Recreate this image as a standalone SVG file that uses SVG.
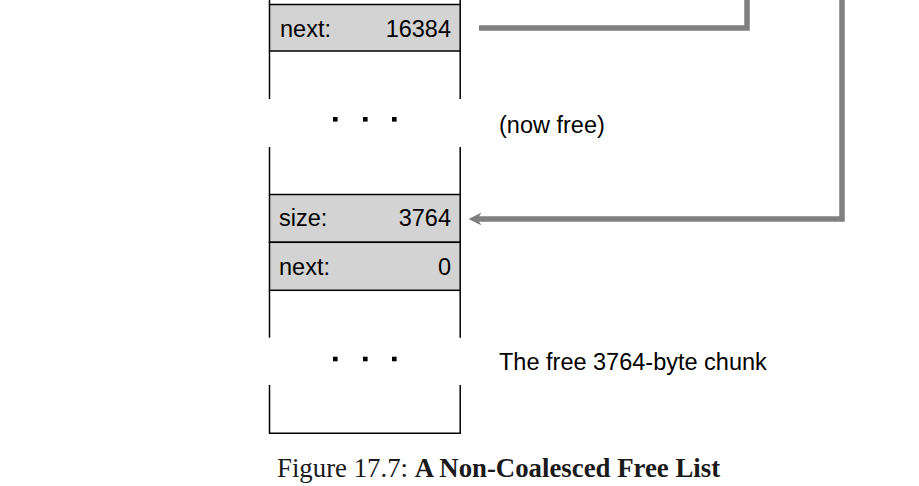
<svg xmlns="http://www.w3.org/2000/svg" width="919" height="486" viewBox="0 0 919 486">
  <style>
    .cell { fill: #d3d3d3; stroke: #000; stroke-width: 1.5; }
    .edge { fill: none; stroke: #000; stroke-width: 1.5; }
    .lbl { font-family: "Liberation Sans", Arial, sans-serif; font-size: 23.5px; fill: #000; }
    .val { font-family: "Liberation Sans", Arial, sans-serif; font-size: 23.5px; fill: #000; text-anchor: end; }
    .dot { fill: #000; }
    .conn { fill: none; stroke: #808080; stroke-width: 5.5; stroke-linejoin: miter; stroke-linecap: butt; }
    .cap { font-family: "Liberation Serif", "Times New Roman", serif; font-size: 26.8px; fill: #1a1a1a; }
  </style>
  <defs>
    <marker id="ah" markerUnits="userSpaceOnUse" viewBox="0 0 14 14" refX="4.5" refY="7" markerWidth="14" markerHeight="14" orient="auto">
      <path d="M0,0.6 L13,7 L0,13.4 L4,7 Z" fill="#808080"/>
    </marker>
  </defs>
  <rect width="919" height="486" fill="#fff"/>

  <g id="chunk-top">
    <line class="edge" x1="269.5" y1="0" x2="269.5" y2="4.5"/>
    <line class="edge" x1="460.2" y1="0" x2="460.2" y2="4.5"/>
    <rect id="row-next-16384" class="cell" x="269.5" y="4.5" width="190.7" height="46.5"/>
    <text class="lbl" x="280" y="37">next:</text>
    <text class="val" x="451" y="37">16384</text>
    <line class="edge" x1="269.5" y1="51" x2="269.5" y2="99"/>
    <line class="edge" x1="460.2" y1="51" x2="460.2" y2="99"/>
  </g>

  <g id="gap-now-free">
    <rect class="dot" x="333" y="117" width="4.6" height="4.6"/>
    <rect class="dot" x="363" y="117" width="4.6" height="4.6"/>
    <rect class="dot" x="392" y="117" width="4.6" height="4.6"/>
    <text class="lbl" x="499" y="133">(now free)</text>
    <line class="edge" x1="269.5" y1="147" x2="269.5" y2="194.5"/>
    <line class="edge" x1="460.2" y1="147" x2="460.2" y2="194.5"/>
  </g>

  <g id="chunk-3764">
    <rect id="row-size" class="cell" x="269.5" y="194.5" width="190.7" height="47.8"/>
    <text class="lbl" x="279" y="226">size:</text>
    <text class="val" x="451" y="226">3764</text>
    <rect id="row-next-0" class="cell" x="269.5" y="242.3" width="190.7" height="48"/>
    <text class="lbl" x="279" y="275">next:</text>
    <text class="val" x="451" y="275">0</text>
    <line class="edge" x1="269.5" y1="290.3" x2="269.5" y2="337.7"/>
    <line class="edge" x1="460.2" y1="290.3" x2="460.2" y2="337.7"/>
    <rect class="dot" x="333" y="356.7" width="4.6" height="4.6"/>
    <rect class="dot" x="363" y="356.7" width="4.6" height="4.6"/>
    <rect class="dot" x="392" y="356.7" width="4.6" height="4.6"/>
    <text class="lbl" x="499" y="369.5">The free 3764-byte chunk</text>
    <path class="edge" d="M269.5,385 V433.3 H460.2 V385"/>
  </g>

  <g id="connectors">
    <path class="conn" d="M479,28 H747 V-5"/>
    <path class="conn" d="M842,-5 V219 H477" marker-end="url(#ah)"/>
  </g>

  <g id="caption">
    <text class="cap" x="277" y="477">Figure 17.7: <tspan font-weight="bold">A Non-Coalesced Free List</tspan></text>
  </g>
</svg>
